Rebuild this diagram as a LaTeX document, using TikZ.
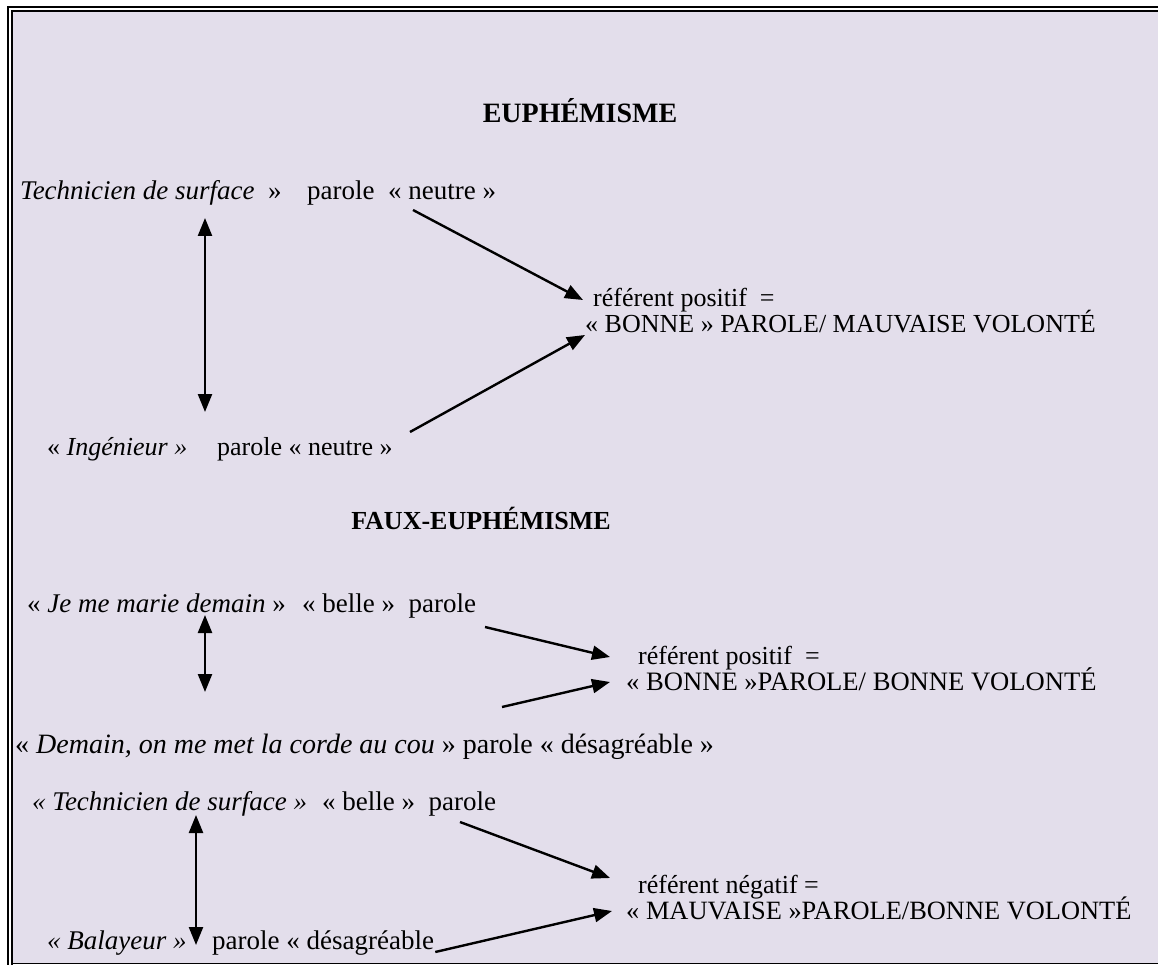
\documentclass[tikz,border=0pt]{standalone}
\usepackage{fontspec}
\setmainfont{Liberation Serif}
\usetikzlibrary{arrows.meta}
\definecolor{bgcol}{RGB}{227,222,235}
\tikzset{
  txt/.style={anchor=base west, inner sep=0pt, font=\fontsize{#1}{#1}\selectfont},
  txt/.default=26,
  ttl/.style={anchor=base, inner sep=0pt, font=\fontsize{#1}{#1}\selectfont\bfseries},
  ttl/.default=26,
  arr/.style={line width=2.4pt, -{Triangle[length=18pt,width=14pt]}},
  darr/.style={line width=2.4pt, {Triangle[length=18pt,width=14pt]}-{Triangle[length=18pt,width=14pt]}},
  frame/.style={line width=2pt}
}
\begin{document}
\begin{tikzpicture}[x=1pt,y=-1pt]
\useasboundingbox (0,0) rectangle (1158,965);
% background and frame
\fill[bgcol] (12,11) rectangle (1158,963.5);
\draw[frame] (8,965) -- (8,7) -- (1158,7);
\draw[frame] (12,965) -- (12,11) -- (1158,11);
\draw[line width=1pt] (12,963.5) -- (1158,963.5);

% ---- EUPHEMISME ----
\node[ttl=28] (t1) at (580,123) {EUPHÉMISME};
\node[txt=27] (a1) at (20,200) {\textit{Technicien de surface}\ \ »};
\node[txt=27] (a2) at (307,200) {parole\ \ « neutre »};
\node[txt] (r1) at (593,307) {référent positif\ \ =};
\node[txt] (r1b) at (585,332) {« BONNE » PAROLE/ MAUVAISE VOLONTÉ};
\node[txt] (b1) at (47,455) {« \textit{Ingénieur »}};
\node[txt] (b2) at (217,455) {parole « neutre »};
\coordinate (a2s) at (413,210);
\coordinate (r1t) at (583,300);
\coordinate (b2s) at (410,432);
\coordinate (r1u) at (585,335);
\coordinate (v1t) at (205,218);
\coordinate (v1b) at (205,412);
\draw[arr] (a2s) -- (r1t);
\draw[arr] (b2s) -- (r1u);
\draw[darr] (v1t) -- (v1b);

% ---- FAUX-EUPHEMISME ----
\node[ttl] (t2) at (481,529) {FAUX-EUPHÉMISME};
\node[txt=27] (c1) at (27,612) {« \textit{Je me marie demain} »};
\node[txt=27] (c2) at (302,612) {« belle »\ \ parole};
\node[txt] (r2) at (638,664) {référent positif\ \ =};
\node[txt=26.6] (r2b) at (626,690) {« BONNE »PAROLE/ BONNE VOLONTÉ};
\node[txt=28] (d1) at (15,753) {« \textit{Demain, on me met la corde au cou} » parole « désagréable »};
\coordinate (c2s) at (485,627);
\coordinate (r2t) at (610,657);
\coordinate (d1s) at (502,707);
\coordinate (r2u) at (610,682);
\coordinate (v2t) at (205,615);
\coordinate (v2b) at (205,692);
\draw[arr] (c2s) -- (r2t);
\draw[arr] (d1s) -- (r2u);
\draw[darr] (v2t) -- (v2b);

\node[txt=27] (e1) at (32,810) {\textit{« Technicien de surface »}};
\node[txt=27] (e2) at (322,810) {« belle »\ \ parole};
\node[txt] (r3) at (638,893) {référent négatif =};
\node[txt=26.4] (r3b) at (626,919) {« MAUVAISE »PAROLE/BONNE VOLONTÉ};
\node[txt=27] (f1) at (47,949) {\textit{« Balayeur »}};
\node[txt=27] (f2) at (212,949) {parole « désagréable};
\coordinate (e2s) at (460,822);
\coordinate (r3t) at (610,878);
\coordinate (r3u) at (612,911);
\coordinate (v3t) at (196,815);
\coordinate (v3b) at (196,945);
\draw[arr] (e2s) -- (r3t);
\draw[arr] ([xshift=1pt,yshift=-3pt]f2.base east) -- (r3u);
\draw[darr] (v3t) -- (v3b);
\end{tikzpicture}
\end{document}
